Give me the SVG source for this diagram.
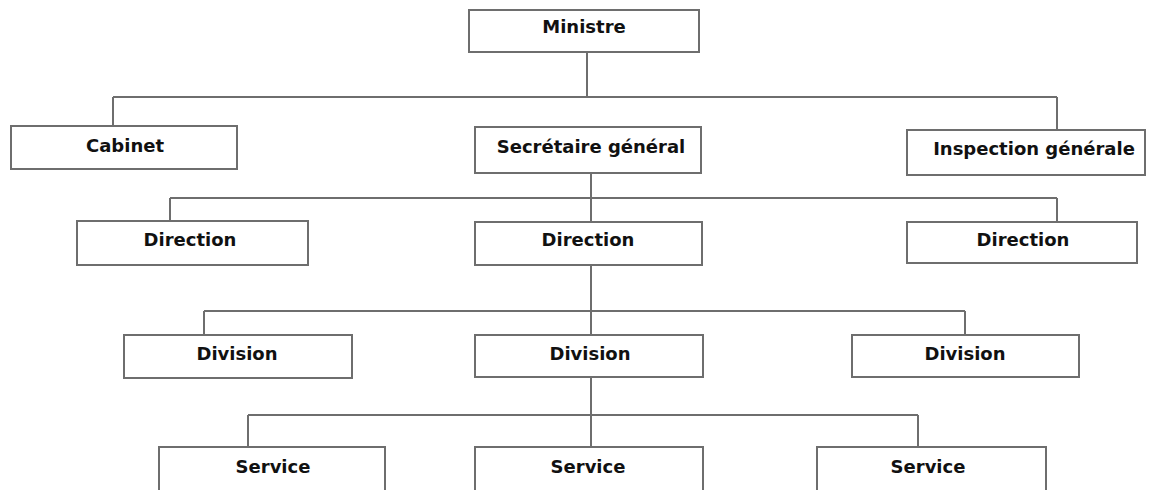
<svg xmlns="http://www.w3.org/2000/svg" width="1150" height="490" viewBox="0 0 1150 490">
<style>
.box{fill:#ffffff;stroke:#6e6e6e;stroke-width:2}
.lbl{font-family:"DejaVu Sans",Verdana,sans-serif;font-weight:bold;font-size:18px;fill:#111;text-anchor:middle}
.con{fill:none;stroke:#6e6e6e;stroke-width:2}
</style>
<rect width="1150" height="490" fill="#ffffff"/>
<g id="connectors">
<path class="con" d="M587,52 V97 M113,97 H1057 M113,97 V126 M1057,97 V130"/>
<path class="con" d="M591,173 V222 M170,198 H1057 M170,198 V221 M1057,198 V222"/>
<path class="con" d="M591,265 V335 M204,311 H965 M204,311 V335 M965,311 V335"/>
<path class="con" d="M591,377 V447 M248,415 H918 M248,415 V447 M918,415 V447"/>
</g>
<g id="ministre"><rect class="box" x="469" y="10" width="230" height="42"/><text class="lbl" x="584" y="33">Ministre</text></g>
<g id="cabinet"><rect class="box" x="11" y="126" width="226" height="43"/><text class="lbl" x="125" y="152">Cabinet</text></g>
<g id="secretaire"><rect class="box" x="475" y="127" width="226" height="46"/><text class="lbl" x="591" y="153">Secrétaire général</text></g>
<g id="inspection"><rect class="box" x="907" y="130" width="238" height="45"/><text class="lbl" x="1034" y="155">Inspection générale</text></g>
<g id="direction-left"><rect class="box" x="77" y="221" width="231" height="44"/><text class="lbl" x="190" y="246">Direction</text></g>
<g id="direction-center"><rect class="box" x="475" y="222" width="227" height="43"/><text class="lbl" x="588" y="246">Direction</text></g>
<g id="direction-right"><rect class="box" x="907" y="222" width="230" height="41"/><text class="lbl" x="1023" y="246">Direction</text></g>
<g id="division-left"><rect class="box" x="124" y="335" width="228" height="43"/><text class="lbl" x="237" y="360">Division</text></g>
<g id="division-center"><rect class="box" x="475" y="335" width="228" height="42"/><text class="lbl" x="590" y="360">Division</text></g>
<g id="division-right"><rect class="box" x="852" y="335" width="227" height="42"/><text class="lbl" x="965" y="360">Division</text></g>
<g id="service-left"><rect class="box" x="159" y="447" width="226" height="50"/><text class="lbl" x="273" y="473">Service</text></g>
<g id="service-center"><rect class="box" x="475" y="447" width="228" height="50"/><text class="lbl" x="588" y="473">Service</text></g>
<g id="service-right"><rect class="box" x="817" y="447" width="229" height="50"/><text class="lbl" x="928" y="473">Service</text></g>
</svg>
